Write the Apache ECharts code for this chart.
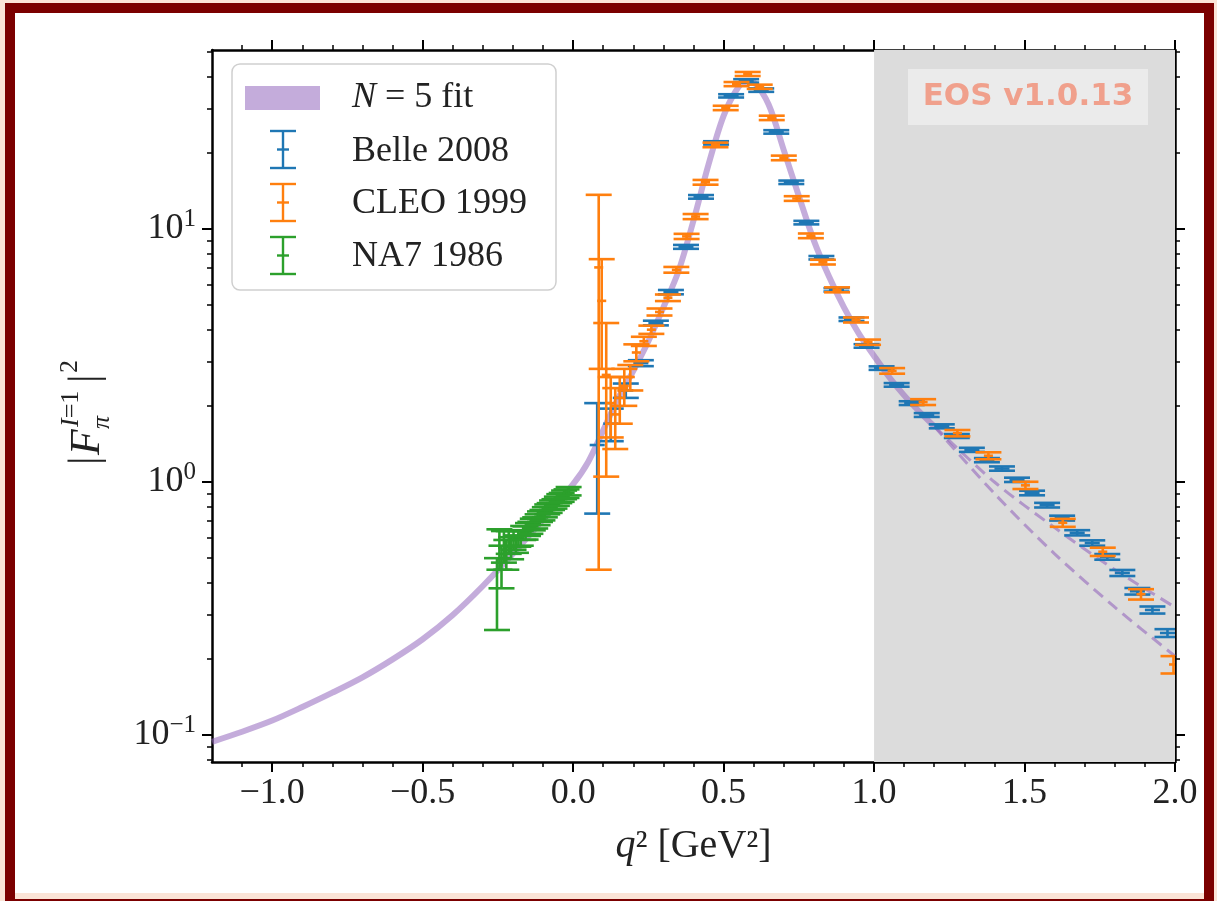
<!DOCTYPE html>
<html>
<head>
<meta charset="utf-8">
<script src="https://cdn.jsdelivr.net/npm/echarts@6/dist/echarts.min.js"></script>
<style>
  body { margin: 0; background: #fbe4d7; width: 1217px; height: 901px; overflow: hidden; }
  #frame { position: absolute; left: 5px; top: 3px; width: 1189px; height: 886px; border: 10px solid #7b0000; background: #fff; }
  #frame .strip { position: absolute; left: 0; right: 0; bottom: 0; height: 6px; background: #fbe4d7; }
  #main { position: absolute; left: 0; top: 0; width: 1217px; height: 901px; }
</style>
</head>
<body>
<div id="frame"><div class="strip"></div></div>
<div id="main"></div>
<script>
// tick positions
const xMajor = [-1.0, -0.5, 0.0, 0.5, 1.0, 1.5, 2.0];
const xMinor = [-1.1, -0.9, -0.8, -0.7, -0.6, -0.4, -0.3, -0.2, -0.1, 0.1, 0.2, 0.3, 0.4,
  0.6, 0.7, 0.8, 0.9, 1.1, 1.2, 1.3, 1.4, 1.6, 1.7, 1.8, 1.9];
const yMajor = [0.1, 1, 10];
const yMinor = [0.08, 0.09, 0.2, 0.3, 0.4, 0.5, 0.6, 0.7, 0.8, 0.9, 2, 3, 4, 5, 6, 7, 8, 9, 20, 30, 40, 50];

// N = 5 fit (central curve), and the two dashed curves above 1.2 GeV^2
const fitQ2 = [-1.2, -1.1, -1.0, -0.9, -0.8, -0.7, -0.6, -0.5, -0.4, -0.3, -0.2, -0.1, 0.0, 0.05, 0.1,
  0.15, 0.2, 0.25, 0.3, 0.35, 0.4, 0.45, 0.5, 0.55, 0.58, 0.6, 0.65, 0.7, 0.75, 0.8, 0.85, 0.9, 0.95,
  1.0, 1.05, 1.1, 1.15, 1.2];
const fitVal = [0.094, 0.103, 0.114, 0.129, 0.147, 0.169, 0.199, 0.239, 0.298, 0.388, 0.52, 0.71, 0.98, 1.2, 1.6,
  2.15, 2.75, 3.6, 4.9, 6.8, 10.8, 18, 28, 36.5, 38.3, 38, 31, 20.5, 13.5, 9.0, 6.5, 4.9, 3.85,
  3.15, 2.6, 2.2, 1.9, 1.66];
const dashQ2 = [1.2, 1.4, 1.6, 1.8, 2.0];
const dashUpper = [1.66, 1.0, 0.66, 0.45, 0.32];
const dashLower = [1.66, 0.9, 0.52, 0.32, 0.205];

// Belle 2008
const belleQ2 = [0.08, 0.125, 0.175, 0.225, 0.275, 0.325, 0.375, 0.425, 0.475, 0.525, 0.575, 0.625, 0.675,
  0.725, 0.775, 0.825, 0.875, 0.925, 0.975, 1.025, 1.075, 1.125, 1.175, 1.225, 1.275, 1.325, 1.375,
  1.425, 1.475, 1.525, 1.575, 1.625, 1.675, 1.725, 1.775, 1.825, 1.875, 1.925, 1.975];
const belleVal = [1.4, 1.7, 2.3, 2.95, 4.25, 5.63, 8.5, 13.4, 21.9, 33.6, 38.5, 35.4, 24.2,
  15.3, 10.6, 7.7, 5.75, 4.4, 3.45, 2.82, 2.42, 2.05, 1.84, 1.66, 1.52, 1.34, 1.22,
  1.13, 1.02, 0.905, 0.81, 0.72, 0.63, 0.574, 0.506, 0.437, 0.37, 0.312, 0.253];
const belleErr = [0.65, 0.25, 0.15, 0.08, 0.09, 0.11, 0.15, 0.22, 0.33, 0.5, 0.6, 0.55, 0.38,
  0.24, 0.17, 0.12, 0.09, 0.07, 0.055, 0.045, 0.04, 0.035, 0.032, 0.03, 0.027, 0.025, 0.023,
  0.022, 0.02, 0.019, 0.017, 0.016, 0.015, 0.014, 0.013, 0.012, 0.011, 0.01, 0.009];
const belleXErr = 0.025;

// CLEO 1999
const cleoQ2 = [0.085, 0.095, 0.11, 0.125, 0.14, 0.155, 0.17, 0.19, 0.21, 0.235, 0.26, 0.287, 0.315,
  0.343, 0.377, 0.407, 0.44, 0.473, 0.507, 0.543, 0.58, 0.62, 0.66, 0.70, 0.743, 0.79, 0.83, 0.877,
  0.94, 0.98, 1.06, 1.163, 1.277, 1.38, 1.503, 1.627, 1.76, 1.887, 1.995];
const cleoVal = [7.05, 5.2, 2.65, 2.05, 1.85, 2.15, 2.4, 2.6, 3.25, 3.6, 4.0, 4.7, 5.35,
  6.9, 9.35, 11.2, 15.3, 21.5, 30.1, 37.4, 41.0, 36.5, 27.5, 19.1, 13.2, 9.4, 7.4, 5.75,
  4.37, 3.57, 2.75, 2.07, 1.56, 1.27, 0.97, 0.69, 0.53, 0.36, 0.19];
const cleoErr = [6.6, 2.4, 1.6, 0.55, 0.5, 0.45, 0.4, 0.3, 0.25, 0.15, 0.15, 0.15, 0.16,
  0.18, 0.22, 0.26, 0.33, 0.45, 0.6, 0.7, 0.75, 0.7, 0.55, 0.4, 0.28, 0.2, 0.16, 0.13,
  0.1, 0.085, 0.07, 0.055, 0.045, 0.04, 0.032, 0.025, 0.02, 0.017, 0.015];
const cleoXErr = 0.015;

// NA7 1986
const na7Q2 = [-0.253, -0.245, -0.238, -0.230, -0.222, -0.214, -0.206, -0.198, -0.190, -0.182, -0.174,
  -0.166, -0.158, -0.150, -0.142, -0.134, -0.126, -0.118, -0.110, -0.102, -0.094, -0.086, -0.078,
  -0.070, -0.062, -0.054, -0.046, -0.038, -0.030, -0.022, -0.015];
const na7Val = [0.38, 0.55, 0.47, 0.56, 0.52, 0.58, 0.55, 0.59, 0.57, 0.60, 0.60,
  0.63, 0.63, 0.65, 0.66, 0.68, 0.69, 0.71, 0.73, 0.74, 0.76, 0.78, 0.79,
  0.81, 0.82, 0.84, 0.86, 0.87, 0.89, 0.90, 0.92];
const na7Err = [0.12, 0.1, 0.09, 0.08, 0.07, 0.06, 0.055, 0.05, 0.045, 0.045, 0.04,
  0.04, 0.038, 0.038, 0.036, 0.036, 0.035, 0.035, 0.035, 0.035, 0.035, 0.035, 0.035,
  0.035, 0.035, 0.035, 0.035, 0.035, 0.035, 0.035, 0.035];
const na7XErr = 0.004;

const SERIF = '"Liberation Serif", "DejaVu Serif", serif';
const BAND = 'rgba(148,103,189,0.55)';
const C_BELLE = '#1f77b4', C_CLEO = '#ff7f0e', C_NA7 = '#2ca02c';

function pts(xs, ys) { return xs.map((x, i) => [x, ys[i]]); }
function ebData(xs, ys, es, xe) { return xs.map((x, i) => [x, ys[i], xe, es[i]]); }

// error bar with caps, drawn through the axes' own coordinate mapping
function renderErrorBar(params, api) {
  const x = api.value(0), y = api.value(1), dx = api.value(2), dy = api.value(3);
  const c = api.coord([x, y]);
  const t = api.coord([x, y + dy]);
  const b = api.coord([x, Math.max(y - dy, 0.01)]);
  const l = api.coord([x - dx, y]);
  const r = api.coord([x + dx, y]);
  const col = api.visual('color');
  const cap = 13;
  const st = () => ({ stroke: col, lineWidth: 2.6 });
  return {
    type: 'group',
    children: [
      { type: 'line', shape: { x1: c[0], y1: t[1], x2: c[0], y2: b[1] }, style: st() },
      { type: 'line', shape: { x1: l[0], y1: c[1], x2: r[0], y2: c[1] }, style: st() },
      { type: 'line', shape: { x1: c[0] - cap, y1: t[1], x2: c[0] + cap, y2: t[1] }, style: st() },
      { type: 'line', shape: { x1: c[0] - cap, y1: b[1], x2: c[0] + cap, y2: b[1] }, style: st() }
    ]
  };
}

function xAxisDef(pos, ticks, len, main) {
  return {
    type: 'value', position: pos, min: -1.2, max: 2.0,
    axisLine: { show: main, onZero: false, lineStyle: { color: '#000', width: 2.5 } },
    axisTick: { show: true, inside: false, length: len, customValues: ticks,
      lineStyle: { color: '#000', width: len > 6 ? 2 : 1.5 } },
    axisLabel: main && pos === 'bottom' ? {
      customValues: xMajor, margin: 14, color: '#222', fontSize: 36, fontFamily: SERIF,
      formatter: v => v.toFixed(1).replace('-', '\u2212')
    } : { show: false },
    splitLine: { show: false },
    name: main && pos === 'bottom' ? '{i|q}\u00b2 [GeV\u00b2]' : '',
    nameLocation: 'middle', nameGap: 64,
    nameTextStyle: { fontSize: 40, fontFamily: SERIF, color: '#222',
      rich: { i: { fontSize: 40, fontFamily: SERIF, fontStyle: 'italic', color: '#222' } } }
  };
}

function yAxisDef(pos, ticks, len, main) {
  return {
    type: 'log', position: pos, min: 0.0782, max: 51, logBase: 10,
    axisLine: { show: main, onZero: false, lineStyle: { color: '#000', width: 2.5 } },
    axisTick: { show: true, inside: false, length: len, customValues: ticks,
      lineStyle: { color: '#000', width: len > 6 ? 2 : 1.5 } },
    axisLabel: main && pos === 'left' ? {
      customValues: yMajor, margin: 16, color: '#222',
      formatter: v => {
        const e = Math.round(Math.log10(v));
        return '{b|10}{s|' + (e < 0 ? '\u2212' : '') + Math.abs(e) + '}';
      },
      rich: {
        b: { fontSize: 36, fontFamily: SERIF, color: '#222', lineHeight: 44 },
        s: { fontSize: 25, fontFamily: SERIF, color: '#222', verticalAlign: 'top', lineHeight: 26 }
      }
    } : { show: false },
    splitLine: { show: false }
  };
}

const chart = echarts.init(document.getElementById('main'), null, { renderer: 'canvas' });

const option = {
  animation: false,
  backgroundColor: 'transparent',
  grid: { left: 212, top: 50, width: 963, height: 712, containLabel: false, outerBoundsMode: 'none',
    show: true, backgroundColor: 'transparent', borderWidth: 0 },
  xAxis: [
    xAxisDef('bottom', xMajor, 10, true),
    xAxisDef('bottom', xMinor, 5, false),
    xAxisDef('top', xMajor, 10, true),
    xAxisDef('top', xMinor, 5, false)
  ],
  yAxis: [
    yAxisDef('left', yMajor, 10, true),
    yAxisDef('left', yMinor, 5, false),
    yAxisDef('right', yMajor, 10, true),
    yAxisDef('right', yMinor, 5, false)
  ],
  series: [
    {
      name: 'N = 5 fit', type: 'line', data: pts(fitQ2, fitVal), showSymbol: false, smooth: 0.3,
      lineStyle: { color: BAND, width: 6 }, z: 2,
      markArea: { silent: true, z: 1, itemStyle: { color: '#dcdcdc' }, data: [[{ xAxis: 1.0 }, { xAxis: 2.0 }]] }
    },
    {
      name: 'fit upper', type: 'line', data: pts(dashQ2, dashUpper), showSymbol: false, smooth: 0.3,
      lineStyle: { color: 'rgba(148,103,189,0.6)', width: 3, type: [12, 7] }, z: 2
    },
    {
      name: 'fit lower', type: 'line', data: pts(dashQ2, dashLower), showSymbol: false, smooth: 0.3,
      lineStyle: { color: 'rgba(148,103,189,0.6)', width: 3, type: [12, 7] }, z: 2
    },
    { name: 'Belle 2008', type: 'custom', renderItem: renderErrorBar, clip: true, z: 3,
      itemStyle: { color: C_BELLE }, encode: { x: 0, y: 1 }, data: ebData(belleQ2, belleVal, belleErr, belleXErr) },
    { name: 'CLEO 1999', type: 'custom', renderItem: renderErrorBar, clip: true, z: 4,
      itemStyle: { color: C_CLEO }, encode: { x: 0, y: 1 }, data: ebData(cleoQ2, cleoVal, cleoErr, cleoXErr) },
    { name: 'NA7 1986', type: 'custom', renderItem: renderErrorBar, clip: true, z: 5,
      itemStyle: { color: C_NA7 }, encode: { x: 0, y: 1 }, data: ebData(na7Q2, na7Val, na7Err, na7XErr) }
  ],
  graphic: []
};

// legend box, drawn like the matplotlib one
function legendIcon(cx, top, bottom, color) {
  const mid = (top + bottom) / 2;
  const s = () => ({ stroke: color, lineWidth: 2.4 });
  return [
    { type: 'line', shape: { x1: cx, y1: top, x2: cx, y2: bottom }, style: s(), z: 101 },
    { type: 'line', shape: { x1: cx - 13, y1: top, x2: cx + 13, y2: top }, style: s(), z: 101 },
    { type: 'line', shape: { x1: cx - 13, y1: bottom, x2: cx + 13, y2: bottom }, style: s(), z: 101 },
    { type: 'line', shape: { x1: cx - 6, y1: mid, x2: cx + 6, y2: mid }, style: s(), z: 101 }
  ];
}
function legendText(y, text) {
  return {
    type: 'text', x: 352, y: y, z: 101,
    style: { text: text, fontSize: 36, fontFamily: SERIF, fill: '#222', verticalAlign: 'middle', align: 'left',
      rich: { i: { fontSize: 36, fontFamily: SERIF, fontStyle: 'italic', fill: '#222' } } }
  };
}
option.graphic.push(
  { type: 'rect', shape: { x: 232, y: 64, width: 324, height: 226, r: 8 }, z: 100,
    style: { fill: 'rgba(255,255,255,0.85)', stroke: '#cfcfcf', lineWidth: 1.5 } },
  { type: 'rect', shape: { x: 245, y: 86, width: 75, height: 24 }, z: 101, style: { fill: BAND } },
  ...legendIcon(283, 131, 168, C_BELLE),
  ...legendIcon(283, 184, 221, C_CLEO),
  ...legendIcon(283, 237, 274, C_NA7),
  legendText(98, '{i|N} = 5 fit'),
  legendText(152, 'Belle 2008'),
  legendText(204, 'CLEO 1999'),
  legendText(257, 'NA7 1986')
);

// EOS watermark
option.graphic.push(
  { type: 'rect', shape: { x: 908, y: 69, width: 240, height: 56 }, z: 100, style: { fill: '#ebebeb' } },
  { type: 'text', x: 1028, y: 97, z: 101,
    style: { text: 'EOS v1.0.13', fontSize: 31, fontWeight: 'bold', fontFamily: '"DejaVu Sans", sans-serif',
      fill: '#f0a08c', align: 'center', verticalAlign: 'middle' } }
);

// y axis title |F_pi^{I=1}|^2, rotated
option.graphic.push({
  type: 'group', x: 86, y: 407, rotation: Math.PI / 2, z: 100,
  children: [
    { type: 'text', x: -58, y: 0, style: { text: '|', fontSize: 42, fontFamily: SERIF, fill: '#222', verticalAlign: 'middle' } },
    { type: 'text', x: -48, y: 2, style: { text: 'F', fontSize: 42, fontStyle: 'italic', fontFamily: SERIF, fill: '#222', verticalAlign: 'middle' } },
    { type: 'text', x: -20, y: -15, style: { text: '{i|I}=1', fontSize: 26, fontFamily: SERIF, fill: '#222', verticalAlign: 'middle',
      rich: { i: { fontSize: 26, fontStyle: 'italic', fontFamily: SERIF, fill: '#222' } } } },
    { type: 'text', x: -22, y: 16, style: { text: '\u03c0', fontSize: 26, fontStyle: 'italic', fontFamily: SERIF, fill: '#222', verticalAlign: 'middle' } },
    { type: 'text', x: 24, y: 0, style: { text: '|', fontSize: 42, fontFamily: SERIF, fill: '#222', verticalAlign: 'middle' } },
    { type: 'text', x: 34, y: -16, style: { text: '2', fontSize: 26, fontFamily: SERIF, fill: '#222', verticalAlign: 'middle' } }
  ]
});

chart.setOption(option);
window.addEventListener('resize', chart.resize);
</script>
</body>
</html>
